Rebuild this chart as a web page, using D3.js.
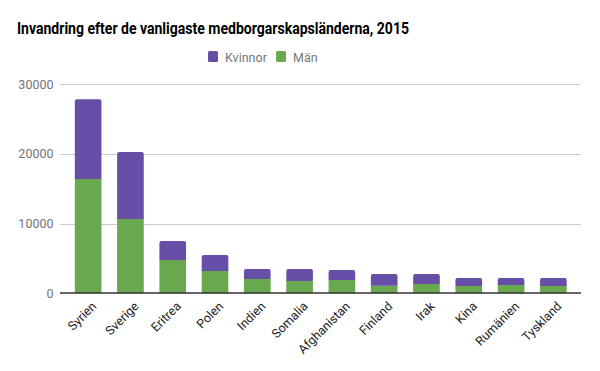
<!doctype html>
<html lang="sv">
<head>
<meta charset="UTF-8">
<title>Invandring</title>
<style>
  body { margin: 0; background: #fff; }
  svg { font-family: Roboto, Arial, sans-serif; display: block; }
</style>
</head>
<body>
<div id="chart"></div>
<script src="https://d3js.org/d3.v7.min.js"></script>
<script>
  const countries = ['Syrien', 'Sverige', 'Eritrea', 'Polen', 'Indien', 'Somalia', 'Afghanistan', 'Finland', 'Irak', 'Kina', 'Rumänien', 'Tyskland']
  const man = [16400, 10670, 4780, 3200, 2050, 1770, 1910, 1090, 1340, 1050, 1190, 1050]
  const kvinnor = [11450, 9610, 2730, 2300, 1440, 1720, 1440, 1680, 1430, 1150, 1010, 1150]
  const yTicks = [0, 10000, 20000, 30000]
  const seriesNames = ['Kvinnor', 'Män']
  const colors = {Kvinnor: '#674ea7', Män: '#6aa84f'}

  const width = 600
  const height = 371
  const gridLeft = 60
  const gridRight = 581

  const svg = d3.select('#chart')
    .append('svg')
    .attr('width', width)
    .attr('height', height)

  // the original title font is narrower than Roboto, squeeze it to the same width
  svg.append('text')
    .text('Invandring efter de vanligaste medborgarskapsländerna, 2015')
    .attr('x', 17)
    .attr('y', 33.5)
    .attr('font-size', 16)
    .attr('font-weight', 'bold')
    .attr('textLength', 392)
    .attr('lengthAdjust', 'spacingAndGlyphs')
    .attr('fill', '#000')

  // legend
  const legend = svg.append('g')
  const legendX = [208, 276]
  seriesNames.forEach((name, i) => {
    legend.append('rect')
      .attr('x', legendX[i])
      .attr('y', 51)
      .attr('width', 10)
      .attr('height', 11)
      .attr('rx', 1.5)
      .attr('fill', colors[name])
    legend.append('text')
      .text(name)
      .attr('x', legendX[i] + 17)
      .attr('y', 61.5)
      .attr('font-size', 12.5)
      .attr('fill', '#757575')
  })

  const x = d3.scaleBand()
    .domain(countries)
    .range([67, 574.5])
    .paddingInner(0.37)
    .paddingOuter(0.185)

  const y = d3.scaleLinear()
    .domain([0, 30000])
    .range([293.3, 84.3])

  // gridlines
  svg.append('g')
    .selectAll('line')
    .data(yTicks.slice(1))
    .enter()
    .append('line')
    .attr('x1', gridLeft)
    .attr('x2', gridRight)
    .attr('y1', d => Math.round(y(d)) + 0.5)
    .attr('y2', d => Math.round(y(d)) + 0.5)
    .attr('stroke', '#cccccc')

  const yAxis = d3.axisLeft(y)
    .tickValues(yTicks)
    .tickFormat(d3.format('d'))
    .tickSize(0)
    .tickPadding(0)

  svg.append('g')
    .attr('transform', `translate(53.5, 0)`)
    .call(yAxis)
    .call(g => g.select('.domain').remove())
    .call(g => g.selectAll('text')
      .attr('font-size', 12.5)
      .attr('font-family', 'Roboto, Arial, sans-serif')
      .attr('fill', '#757575'))

  const rows = countries.map((c, i) => ({country: c, Män: man[i], Kvinnor: kvinnor[i]}))
  const stacked = d3.stack().keys(['Män', 'Kvinnor'])(rows)

  const r = 2
  const barPath = (x0, y0, w, y1, rounded) => {
    // y0 bottom, y1 top
    if (!rounded) return `M${x0},${y0}V${y1}H${x0 + w}V${y0}Z`
    return `M${x0},${y0}V${y1 + r}Q${x0},${y1} ${x0 + r},${y1}H${x0 + w - r}Q${x0 + w},${y1} ${x0 + w},${y1 + r}V${y0}Z`
  }

  stacked.forEach(layer => {
    svg.append('g')
      .selectAll('path')
      .data(layer)
      .enter()
      .append('path')
      .attr('fill', colors[layer.key])
      .attr('d', d => barPath(x(d.data.country), y(d[0]), x.bandwidth(), y(d[1]), layer.key === 'Kvinnor'))
  })

  // baseline
  svg.append('line')
    .attr('x1', gridLeft)
    .attr('x2', gridRight)
    .attr('y1', 293)
    .attr('y2', 293)
    .attr('stroke', '#333333')
    .attr('stroke-width', 1.3)

  const xAxis = d3.axisBottom(x).tickSize(0).tickPadding(0)
  svg.append('g')
    .attr('transform', 'translate(0, 293)')
    .call(xAxis)
    .call(g => g.select('.domain').remove())
    .call(g => g.selectAll('text')
      .attr('font-size', 12.5)
      .attr('font-family', 'Roboto, Arial, sans-serif')
      .attr('fill', '#222222')
      .attr('text-anchor', 'end')
      .attr('dy', 0)
      .attr('y', 0)
      .attr('transform', 'translate(9, 14) rotate(-45)'))
</script>
</body>
</html>
